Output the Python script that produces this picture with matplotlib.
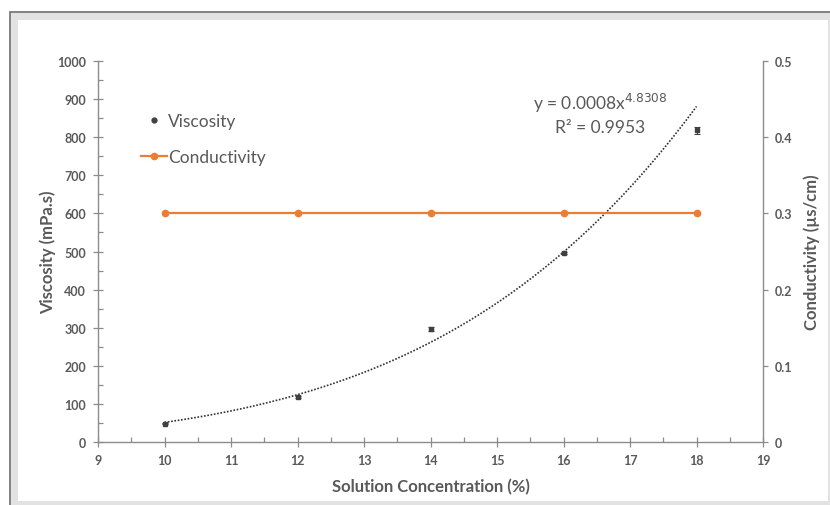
import numpy as np
import matplotlib
matplotlib.use("Agg")
import matplotlib.pyplot as plt
from matplotlib.patches import Rectangle
from matplotlib.ticker import MultipleLocator

plt.rcParams['font.family'] = ['Lato', 'DejaVu Sans']

# Data
concentration = [10, 12, 14, 16, 18]
viscosity = [48, 118, 297, 496, 818]
viscosity_err = [2, 3, 6, 3, 10]
conductivity = [0.3, 0.3, 0.3, 0.3, 0.3]

# Power-law trendline y = a * x^b
fit_a = 0.00076
fit_b = 4.8308
fit_r2 = 0.9953

W, H = 830, 506
fig = plt.figure(figsize=(W / 100, H / 100), dpi=100)

# Panel frame
fig.patches.append(Rectangle((10 / W, -0.1), 2, 1 - 13 / H + 0.1,
                             transform=fig.transFigure, facecolor='#e2e2e2',
                             edgecolor='#707070', lw=1.2, zorder=-3))
fig.patches.append(Rectangle((18 / W, 1 - 502 / H), (828 - 18) / W, (502 - 21) / H,
                             transform=fig.transFigure, facecolor='white',
                             edgecolor='none', zorder=-2))

ax = fig.add_axes([98 / W, 1 - 443 / H, (763 - 98) / W, (443 - 62) / H])
ax2 = ax.twinx()
ax.set_facecolor('none')
ax2.set_facecolor('none')

grey = '#595959'
axis_col = '#8c8c8c'

# Trendline
xs = np.linspace(concentration[0], concentration[-1], 300)
ax.plot(xs, fit_a * xs ** fit_b, ls=(0, (1, 1)), color='#333333', lw=1.2, zorder=2)

# Viscosity points
ax.errorbar(concentration, viscosity, yerr=viscosity_err, fmt='s', ms=3,
            color='#404040', ecolor='#404040', elinewidth=0.8, capsize=2.5,
            capthick=0.8, zorder=3, label='Viscosity')

# Conductivity line
ax2.plot(concentration, conductivity, '-o', color='#ED7D31', lw=1.6, ms=4.5,
         zorder=3, label='Conductivity')

ax.set_xlim(9, 19)
ax.set_ylim(0, 1000)
ax2.set_ylim(0, 0.5)

ax.xaxis.set_major_locator(MultipleLocator(1))
ax.xaxis.set_minor_locator(MultipleLocator(0.5))
ax.yaxis.set_major_locator(MultipleLocator(100))
ax.yaxis.set_minor_locator(MultipleLocator(50))

for a in (ax, ax2):
    for s in a.spines.values():
        s.set_visible(False)
ax.spines['left'].set_visible(True)
ax.spines['bottom'].set_visible(True)
ax2.spines['right'].set_visible(True)
for s in (ax.spines['left'], ax.spines['bottom'], ax2.spines['right']):
    s.set_color(axis_col)
    s.set_linewidth(1.0)

ax.tick_params(axis='both', which='major', direction='inout', length=7, width=0.9,
               color=axis_col, labelcolor=grey, labelsize=9, pad=5)
ax.tick_params(axis='both', which='minor', direction='in', length=3.5, width=0.9,
               color=axis_col)
ax2.tick_params(axis='y', which='major', direction='out', length=3.5, width=0.9,
                color=axis_col, labelcolor=grey, labelsize=9, pad=5)
for lbl in ax.get_xticklabels() + ax.get_yticklabels():
    lbl.set_fontweight('bold')
ax2.set_yticks(np.arange(0, 0.51, 0.1))
ax2.set_yticklabels(['0', '0.1', '0.2', '0.3', '0.4', '0.5'], fontweight='bold')

ax.set_xlabel('Solution Concentration (%)', fontsize=12, fontweight='bold',
              color=grey, labelpad=9)
ax.set_ylabel('Viscosity (mPa.s)', fontsize=12, fontweight='bold', color=grey,
              labelpad=1)
ax2.set_ylabel('Conductivity (µs/cm)', fontsize=12, fontweight='bold', color=grey,
               labelpad=8)

# Trendline equation
fig.text(600 / W, 1 - 103 / H, f'y = {fit_a:.4f}x$^{{{fit_b:.4f}}}$',
         fontsize=12.5, color=grey, ha='center', va='center')
fig.text(600 / W, 1 - 128 / H, f'R² = {fit_r2:.4f}', fontsize=12.5, color=grey,
         ha='center', va='center')

# Legend
h1 = ax.plot([], [], 'o', color='#404040', ms=3.5)[0]
h2 = ax2.get_lines()[0]
leg = fig.legend([h1, h2], ['Viscosity', 'Conductivity'], loc='upper left',
                 bbox_to_anchor=(125 / W, 1 - 98 / H), frameon=False,
                 fontsize=12.5, labelcolor=grey, handlelength=1.5,
                 handletextpad=0.1, labelspacing=1.2)

fig.savefig('out.png', dpi=100)
